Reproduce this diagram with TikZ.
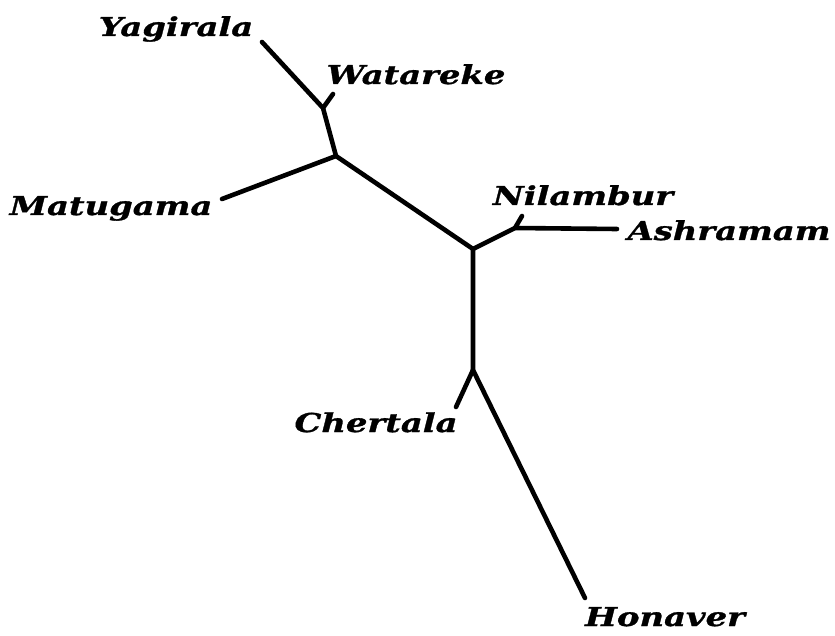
\documentclass[tikz,border=0pt]{standalone}
\usepackage{fontspec}
\newfontfamily\lblfont[FakeStretch=1.3,FakeBold=1.2]{DejaVu Serif}
\begin{document}
\begin{tikzpicture}[x=1pt,y=-1pt,
  lbl/.style={font=\lblfont\fontsize{26}{30}\selectfont\bfseries\itshape, anchor=base, inner sep=0pt},
  branch/.style={line width=4.6pt, line cap=round, line join=round}]
\useasboundingbox (0,0) rectangle (835,636);
% junctions
\coordinate (jW) at (323,108);
\coordinate (jM) at (336,156);
\coordinate (jC) at (473,249);
\coordinate (jN) at (515,228);
\coordinate (jH) at (473,370);
% leaf ends
\coordinate (lY) at (262,42);
\coordinate (lW) at (333,94);
\coordinate (lM) at (222,199);
\coordinate (lN) at (522,216);
\coordinate (lA) at (617,229);
\coordinate (lCh) at (456,407);
\coordinate (lHo) at (585,598);
% branches
\draw[branch] (lY) -- (jW) -- (jM) -- (jC) -- (jH) -- (lHo);
\draw[branch] (jW) -- (lW);
\draw[branch] (jM) -- (lM);
\draw[branch] (jC) -- (jN) -- (lA);
\draw[branch] (jN) -- (lN);
\draw[branch] (jH) -- (lCh);
% labels
\node[lbl] (tY) at (176,36) {Yagirala};
\node[lbl] (tW) at (416,84) {Watareke};
\node[lbl] (tM) at (111,215) {Matugama};
\node[lbl] (tN) at (583,205) {Nilambur};
\node[lbl] (tA) at (729,240) {Ashramam};
\node[lbl] (tCh) at (376,432) {Chertala};
\node[lbl] (tHo) at (665,626) {Honaver};
\end{tikzpicture}
\end{document}
